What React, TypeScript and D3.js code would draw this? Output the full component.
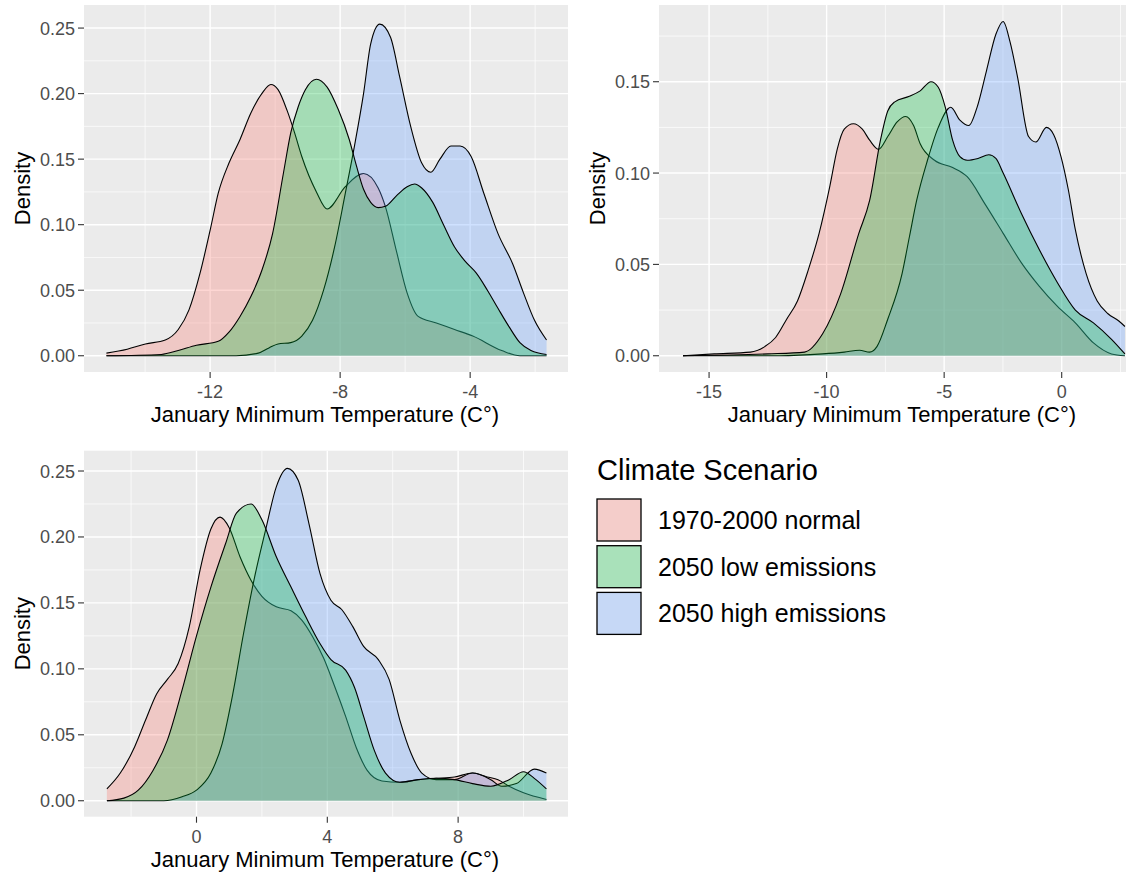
import React from 'react';
import * as d3 from 'd3';

type Pt = [number, number];

// ---------- categories / colours ----------
const scenarios = ['1970-2000 normal', '2050 low emissions', '2050 high emissions'];
const scenarioColors = ['#F8766D', '#00BA38', '#619CFF'];
const drawOrder = [0, 2, 1];

// ---------- panel 1 (top left) ----------
const p1Normal: Pt[] = [[-15.19,0.002],[-14.55,0.005],[-13.99,0.009],[-13.38,0.012],[-12.98,0.02],[-12.65,0.035],[-12.31,0.063],[-11.98,0.098],[-11.75,0.124],[-11.42,0.147],[-11.08,0.165],[-10.75,0.185],[-10.41,0.2],[-10.13,0.207],[-9.91,0.203],[-9.63,0.187],[-9.4,0.17],[-9.18,0.152],[-8.73,0.125],[-8.4,0.112],[-7.84,0.129],[-7.28,0.139],[-6.83,0.128],[-6.61,0.114],[-6.27,0.08],[-5.94,0.048],[-5.6,0.03],[-5.04,0.025],[-4.48,0.02],[-3.92,0.015],[-3.03,0.004],[-2.47,0.0],[-1.65,0.0]];
const p1Low: Pt[] = [[-15.19,0],[-13.5,0.001],[-12.98,0.004],[-12.42,0.008],[-11.75,0.011],[-11.42,0.018],[-11.08,0.03],[-10.75,0.045],[-10.41,0.065],[-10.08,0.093],[-9.74,0.14],[-9.52,0.17],[-9.29,0.19],[-9.07,0.203],[-8.73,0.211],[-8.4,0.205],[-8.06,0.188],[-7.72,0.165],[-7.5,0.145],[-7.28,0.127],[-7.06,0.117],[-6.83,0.113],[-6.61,0.114],[-6.27,0.122],[-5.94,0.129],[-5.71,0.131],[-5.49,0.128],[-5.15,0.117],[-4.82,0.1],[-4.48,0.083],[-4.15,0.072],[-3.81,0.063],[-3.47,0.05],[-3.14,0.036],[-2.8,0.022],[-2.47,0.01],[-2.13,0.004],[-1.65,0.001]];
const p1High: Pt[] = [[-15.19,0],[-11.2,0],[-10.52,0.002],[-10.19,0.006],[-9.91,0.009],[-9.52,0.01],[-9.18,0.015],[-8.85,0.027],[-8.51,0.05],[-8.17,0.083],[-7.84,0.124],[-7.56,0.16],[-7.28,0.2],[-7.06,0.238],[-6.78,0.253],[-6.45,0.243],[-6.17,0.213],[-5.83,0.175],[-5.49,0.147],[-5.21,0.14],[-4.93,0.15],[-4.59,0.16],[-4.31,0.16],[-3.97,0.152],[-3.58,0.124],[-3.14,0.093],[-2.69,0.07],[-2.36,0.048],[-2.02,0.027],[-1.65,0.012]];
const p1XTicks = [-12, -8, -4];
const p1XMinor = [-14, -10, -6, -2];
const p1YTicks = [0, 0.05, 0.1, 0.15, 0.2, 0.25];
const p1YMinor = [0.025, 0.075, 0.125, 0.175, 0.225];

// ---------- panel 2 (top right) ----------
const p2Normal: Pt[] = [[-16.11,0],[-14.78,0.001],[-13.24,0.002],[-12.63,0.005],[-12.17,0.01],[-11.7,0.02],[-11.24,0.03],[-10.78,0.047],[-10.32,0.067],[-9.86,0.093],[-9.55,0.113],[-9.25,0.124],[-8.86,0.127],[-8.48,0.124],[-8.17,0.118],[-7.79,0.113],[-7.4,0.12],[-7.0,0.128],[-6.64,0.131],[-6.3,0.126],[-6.02,0.116],[-5.41,0.107],[-4.64,0.103],[-4.02,0.098],[-3.26,0.083],[-2.49,0.067],[-1.72,0.051],[-0.95,0.038],[-0.18,0.027],[0.58,0.018],[1.35,0.007],[2.12,0.001],[2.69,0]];
const p2Low: Pt[] = [[-16.11,0],[-12.5,0.001],[-10.94,0.002],[-10.17,0.012],[-9.4,0.034],[-8.63,0.067],[-8.17,0.085],[-7.71,0.118],[-7.4,0.134],[-7.1,0.139],[-6.48,0.142],[-6.02,0.145],[-5.56,0.15],[-5.25,0.147],[-4.95,0.136],[-4.64,0.118],[-4.33,0.109],[-4.02,0.107],[-3.56,0.108],[-3.1,0.11],[-2.8,0.108],[-2.49,0.1],[-1.72,0.078],[-0.95,0.058],[-0.18,0.04],[0.58,0.025],[1.35,0.018],[2.12,0.009],[2.69,0.001]];
const p2High: Pt[] = [[-16.11,0],[-12,0],[-10.17,0.001],[-9.25,0.002],[-8.6,0.003],[-8.17,0.002],[-7.86,0.005],[-7.4,0.02],[-6.79,0.045],[-6.48,0.065],[-6.17,0.085],[-5.71,0.107],[-5.25,0.125],[-4.72,0.136],[-4.33,0.129],[-3.95,0.126],[-3.6,0.136],[-3.2,0.156],[-2.8,0.176],[-2.49,0.183],[-2.2,0.172],[-1.87,0.152],[-1.41,0.12],[-1.1,0.117],[-0.65,0.125],[-0.34,0.121],[-0.03,0.109],[0.28,0.091],[0.58,0.069],[1.04,0.045],[1.51,0.03],[1.97,0.023],[2.43,0.019],[2.69,0.016]];
const p2XTicks = [-15, -10, -5, 0];
const p2XMinor = [-12.5, -7.5, -2.5, 2.5];
const p2YTicks = [0, 0.05, 0.1, 0.15];
const p2YMinor = [0.025, 0.075, 0.125, 0.175];

// ---------- panel 3 (bottom left) ----------
const p3Normal: Pt[] = [[-2.74,0.009],[-2.33,0.021],[-1.89,0.041],[-1.56,0.061],[-1.22,0.081],[-0.89,0.092],[-0.56,0.104],[-0.22,0.132],[0.11,0.175],[0.44,0.206],[0.72,0.215],[1.0,0.207],[1.33,0.185],[1.67,0.167],[2.0,0.155],[2.44,0.147],[2.89,0.144],[3.22,0.137],[3.56,0.124],[3.89,0.108],[4.22,0.087],[4.56,0.064],[4.89,0.04],[5.22,0.023],[5.67,0.015],[6.22,0.014],[6.78,0.016],[7.33,0.017],[7.89,0.018],[8.44,0.021],[8.89,0.018],[9.22,0.016],[9.56,0.011],[10.0,0.006],[10.7,0.001]];
const p3Low: Pt[] = [[-2.74,0],[-2.22,0.002],[-1.78,0.008],[-1.33,0.023],[-0.89,0.046],[-0.44,0.084],[0.0,0.125],[0.44,0.162],[0.89,0.195],[1.22,0.218],[1.67,0.225],[2.0,0.213],[2.44,0.185],[2.89,0.162],[3.33,0.14],[3.78,0.119],[4.11,0.107],[4.56,0.099],[4.83,0.086],[5.11,0.064],[5.44,0.038],[5.78,0.021],[6.22,0.014],[6.78,0.016],[7.33,0.017],[7.89,0.016],[8.44,0.013],[9.0,0.011],[9.56,0.016],[10.0,0.022],[10.33,0.017],[10.7,0.009]];
const p3High: Pt[] = [[-2.74,0],[-1.0,0.0],[-0.44,0.003],[0.0,0.008],[0.44,0.021],[0.78,0.043],[1.11,0.081],[1.44,0.127],[1.78,0.17],[2.11,0.205],[2.44,0.238],[2.78,0.252],[3.11,0.243],[3.44,0.21],[3.78,0.172],[4.11,0.152],[4.44,0.145],[4.78,0.132],[5.11,0.117],[5.56,0.107],[5.89,0.092],[6.22,0.061],[6.56,0.036],[6.89,0.021],[7.33,0.016],[7.89,0.016],[8.44,0.021],[9.0,0.016],[9.33,0.011],[9.78,0.013],[10.33,0.024],[10.7,0.021]];
const p3XTicks = [0, 4, 8];
const p3XMinor = [-2, 2, 6, 10];
const p3YTicks = [0, 0.05, 0.1, 0.15, 0.2, 0.25];
const p3YMinor = [0.025, 0.075, 0.125, 0.175, 0.225];

const xTitle = 'January Minimum Temperature (C°)';
const yTitle = 'Density';
const legendTitle = 'Climate Scenario';

const FONT = '"Liberation Sans", Arial, "DejaVu Sans", sans-serif';

interface PanelProps {
  id: string;
  left: number; right: number; top: number; bottom: number;
  xDomain: [number, number]; xRange: [number, number];
  yDomain: [number, number];
  xTicks: number[]; xMinor: number[];
  yTicks: number[]; yMinor: number[];
  series: Pt[][];
  titleX: number;
}

function Panel(p: PanelProps) {
  const x = d3.scaleLinear().domain(p.xDomain).range(p.xRange);
  const y = d3.scaleLinear().domain(p.yDomain).range([p.bottom, p.top]);
  const area = d3.area<Pt>().x(d => x(d[0])).y0(y(0)).y1(d => y(d[1])).curve(d3.curveMonotoneX);
  const line = d3.line<Pt>().x(d => x(d[0])).y(d => y(d[1])).curve(d3.curveMonotoneX);
  const fmt = d3.format('.2f');
  const inX = (v: number) => x(v) >= p.left && x(v) <= p.right;
  const inY = (v: number) => y(v) >= p.top && y(v) <= p.bottom;
  const midY = (p.top + p.bottom) / 2;
  return (
    <g>
      <defs>
        <clipPath id={p.id}>
          <rect x={p.left} y={p.top} width={p.right - p.left} height={p.bottom - p.top} />
        </clipPath>
      </defs>
      <rect x={p.left} y={p.top} width={p.right - p.left} height={p.bottom - p.top} fill="#EBEBEB" />
      {p.yMinor.filter(inY).map(v => (
        <line key={'ym' + v} x1={p.left} x2={p.right} y1={y(v)} y2={y(v)} stroke="#fff" strokeWidth={0.7} />
      ))}
      {p.xMinor.filter(inX).map(v => (
        <line key={'xm' + v} x1={x(v)} x2={x(v)} y1={p.top} y2={p.bottom} stroke="#fff" strokeWidth={0.7} />
      ))}
      {p.yTicks.map(v => (
        <line key={'yM' + v} x1={p.left} x2={p.right} y1={y(v)} y2={y(v)} stroke="#fff" strokeWidth={1.4} />
      ))}
      {p.xTicks.map(v => (
        <line key={'xM' + v} x1={x(v)} x2={x(v)} y1={p.top} y2={p.bottom} stroke="#fff" strokeWidth={1.4} />
      ))}
      <g clipPath={`url(#${p.id})`}>
        {drawOrder.map(i => (
          <g key={'s' + i}>
            <path d={area(p.series[i]) || ''} fill={scenarioColors[i]} fillOpacity={0.3} />
            <path d={line(p.series[i]) || ''} fill="none" stroke="#000" strokeWidth={1.1} />
          </g>
        ))}
      </g>
      {p.yTicks.map(v => (
        <g key={'yt' + v}>
          <line x1={p.left - 6} x2={p.left} y1={y(v)} y2={y(v)} stroke="#333" strokeWidth={1.1} />
          <text x={p.left - 9} y={y(v) + 6.5} textAnchor="end" fontSize={18} fill="#4D4D4D" fontFamily={FONT}>{fmt(v)}</text>
        </g>
      ))}
      {p.xTicks.map(v => (
        <g key={'xt' + v}>
          <line x1={x(v)} x2={x(v)} y1={p.bottom} y2={p.bottom + 6} stroke="#333" strokeWidth={1.1} />
          <text x={x(v)} y={p.bottom + 26} textAnchor="middle" fontSize={18} fill="#4D4D4D" fontFamily={FONT}>{String(v)}</text>
        </g>
      ))}
      <text x={p.titleX} y={p.bottom + 50} textAnchor="middle" fontSize={22} fill="#000" fontFamily={FONT}>{xTitle}</text>
      <text transform={`translate(${p.left - 54},${midY}) rotate(-90)`} textAnchor="middle" fontSize={22} fill="#000" fontFamily={FONT}>{yTitle}</text>
    </g>
  );
}

export default function App() {
  const keyTop = 499;
  const keyStep = 46.7;
  return (
    <svg width={1136} height={875} style={{ position: 'absolute', left: 0, top: 0, display: 'block', background: '#fff' }}>
      <rect x={0} y={0} width={1136} height={875} fill="#fff" />
      <Panel id="c1" left={84} right={568} top={5} bottom={372}
        xDomain={[-15.88, -0.99]} xRange={[84, 568]} yDomain={[-0.0124, 0.2676]}
        xTicks={p1XTicks} xMinor={p1XMinor} yTicks={p1YTicks} yMinor={p1YMinor}
        series={[p1Normal, p1Low, p1High]} titleX={325} />
      <Panel id="c2" left={659} right={1126} top={5} bottom={372}
        xDomain={[-17.13, 3.62]} xRange={[659, 1146.8]} yDomain={[-0.0089, 0.192]}
        xTicks={p2XTicks} xMinor={p2XMinor} yTicks={p2YTicks} yMinor={p2YMinor}
        series={[p2Normal, p2Low, p2High]} titleX={902} />
      <Panel id="c3" left={84} right={568} top={450.7} bottom={816.7}
        xDomain={[-3.44, 11.36]} xRange={[84, 568]} yDomain={[-0.0121, 0.2654]}
        xTicks={p3XTicks} xMinor={p3XMinor} yTicks={p3YTicks} yMinor={p3YMinor}
        series={[p3Normal, p3Low, p3High]} titleX={325} />
      <g>
        <text x={597} y={480} fontSize={29} fill="#000" fontFamily={FONT}>{legendTitle}</text>
        {scenarios.map((s, i) => (
          <g key={s}>
            <rect x={597} y={keyTop + i * keyStep} width={44} height={42} fill="#F2F2F2" />
            <rect x={597} y={keyTop + i * keyStep} width={44} height={42} fill={scenarioColors[i]} fillOpacity={0.3} stroke="#000" strokeWidth={1.3} />
            <text x={658} y={keyTop + i * keyStep + 21 + 9} fontSize={25} fill="#000" fontFamily={FONT}>{s}</text>
          </g>
        ))}
      </g>
    </svg>
  );
}
